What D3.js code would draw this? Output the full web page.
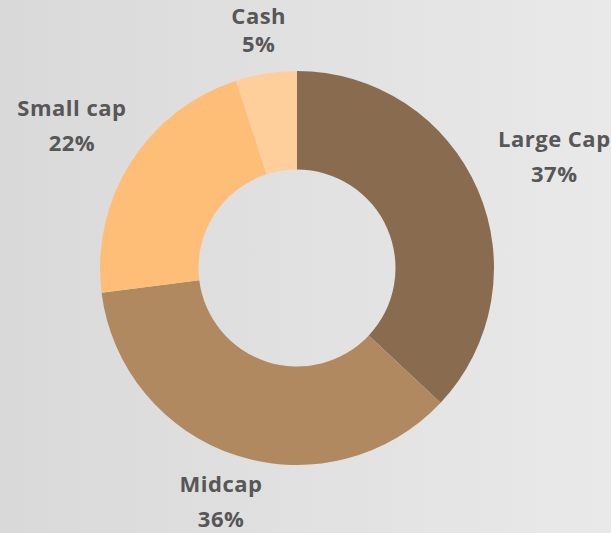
<!DOCTYPE html>
<html>
<head>
<meta charset="utf-8">
<script src="https://cdn.jsdelivr.net/npm/d3@7"></script>
<style>
  html, body { margin: 0; padding: 0; overflow: hidden; }
  .lbl { font-family: "Open Sans", Lato, sans-serif; font-weight: 700; fill: #575757; font-size: 22px; letter-spacing: 0.5px; }
</style>
</head>
<body>
<div id="chart"></div>
<script>
// data
var categories = ["Large Cap", "Midcap", "Small cap", "Cash"];
var shares = [37, 36, 22, 5];
var colors = ["#896c50", "#b08960", "#ffbe78", "#ffcf9b"];

var svgWidth = 611,
    svgHeight = 533;

var cx = 297, cy = 268;
var outerR = 197, innerR = 98.5;
var labelR = 219;

var svg = d3.select("#chart")
  .append("svg")
  .attr("width", svgWidth)
  .attr("height", svgHeight);

// background gradient, darker on the left
var defs = svg.append("defs");
var grad = defs.append("linearGradient")
  .attr("id", "bg")
  .attr("x1", "0").attr("y1", "0").attr("x2", "1").attr("y2", "0");
grad.append("stop").attr("offset", "0%").attr("stop-color", "#d9d9d9");
grad.append("stop").attr("offset", "100%").attr("stop-color", "#e9e9e9");

svg.append("rect")
  .attr("width", svgWidth)
  .attr("height", svgHeight)
  .attr("fill", "url(#bg)");

var data = categories.map(function(c, i) {
  return { name: c, value: shares[i], color: colors[i] };
});

var pie = d3.pie()
  .sort(null)
  .value(d => d.value);

var arc = d3.arc()
  .innerRadius(innerR)
  .outerRadius(outerR);

var chartGroup = svg.append("g")
  .attr("transform", `translate(${cx}, ${cy})`);

var arcs = pie(data);

chartGroup.selectAll("path")
  .data(arcs)
  .enter()
  .append("path")
  .attr("d", arc)
  .attr("fill", d => d.data.color);

// labels: anchored just outside the ring, pushed outward by half the text block
var capH = 16, lineGap = 35;
var h = capH + lineGap;
var labels = chartGroup.selectAll("g.label")
  .data(arcs)
  .enter()
  .append("g")
  .attr("class", "label");

labels.each(function(d) {
  var g = d3.select(this);
  var t1 = g.append("text").attr("class", "lbl").attr("text-anchor", "middle")
    .attr("y", -h / 2 + capH).text(d.data.name);
  var t2 = g.append("text").attr("class", "lbl").attr("text-anchor", "middle")
    .attr("y", h / 2).text(d.data.value + "%");
  var w = Math.max(t1.node().getComputedTextLength(), t2.node().getComputedTextLength());
  var a = (d.startAngle + d.endAngle) / 2;
  var s = Math.sin(a), c = Math.cos(a);
  var push = Math.min(Math.abs(s) > 1e-6 ? (w / 2) / Math.abs(s) : 1e9,
                      Math.abs(c) > 1e-6 ? (h / 2) / Math.abs(c) : 1e9);
  var r = labelR + push;
  var x = s * r, y = -c * r;
  // keep the first line inside the top edge
  var minBase = 24 - cy;
  if (y - h / 2 + capH < minBase) t1.attr("y", minBase - y);
  g.attr("transform", `translate(${x}, ${y})`);
});
</script>
</body>
</html>
